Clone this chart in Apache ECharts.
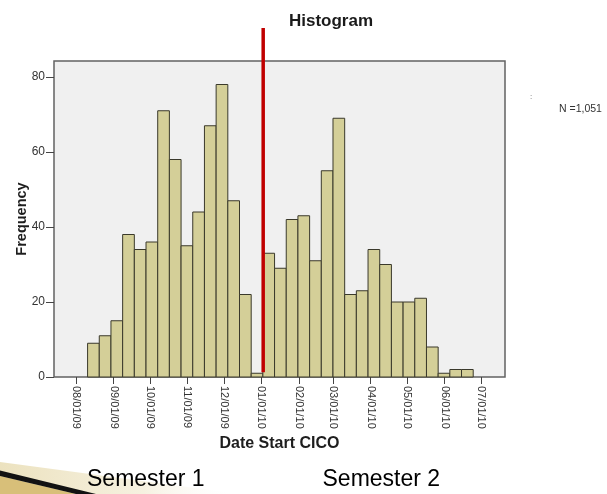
<!DOCTYPE html>
<html>
<head>
<meta charset="utf-8">
<script src="https://cdn.jsdelivr.net/npm/echarts@6/dist/echarts.min.js"></script>
<style>
html,body{margin:0;padding:0;background:#fff;}
#chart{width:607px;height:494px;}
</style>
</head>
<body>
<div id="chart"></div>
<script>
// ---- data ----
var tickLabels = ['08/01/09','09/01/09','10/01/09','11/01/09','12/01/09','01/01/10',
                  '02/01/10','03/01/10','04/01/10','05/01/10','06/01/10','07/01/10'];
var yTicks = [0, 20, 40, 60, 80];
var counts = [9, 11, 15, 38, 34, 36, 71, 58, 35, 44, 67, 78, 47, 22, 1,
              33, 29, 42, 43, 31, 55, 69, 22, 23, 34, 30, 20, 20, 21, 8, 1, 2, 2];
var firstBinDay = 9.6;      // days after 08/01/09 where the first bin starts
var binWidthDays = 9.636;   // bin width in days
var semesterSplitDay = 154.4; // red divider (early Jan 2010)
var totalN = '1,051';

// ---- helpers ----
var origin = Date.UTC(2009, 7, 1);
function labelToDay(s) {
  var p = s.split('/');
  return (Date.UTC(2000 + (+p[2]), (+p[0]) - 1, +p[1]) - origin) / 86400000;
}
var tickDays = tickLabels.map(labelToDay);
var dayToLabel = {};
tickDays.forEach(function (d, i) { dayToLabel[d] = tickLabels[i]; });

var binData = counts.map(function (c, i) {
  var s = firstBinDay + i * binWidthDays;
  return [s, s + binWidthDays, c];
});

var FONT = 'Liberation Sans, Arial, Helvetica, sans-serif';
var chart = echarts.init(document.getElementById('chart'), null, {renderer: 'canvas'});

chart.setOption({
  animation: false,
  backgroundColor: '#ffffff',
  grid: {
    left: 54, right: 102, top: 61, bottom: 117,
    show: true, backgroundColor: '#f0f0f0', borderColor: '#626262', borderWidth: 1.5
  },
  xAxis: {
    type: 'value',
    min: -18.1, max: 353.8,
    name: 'Date Start CICO',
    nameLocation: 'middle',
    nameGap: 58.5,
    nameMoveOverlap: false,
    nameTextStyle: {fontFamily: FONT, fontWeight: 'bold', fontSize: 16, color: '#1e1e1e'},
    axisLine: {show: false, onZero: false},
    splitLine: {show: false},
    axisTick: {show: true, customValues: tickDays, length: 7, lineStyle: {color: '#444', width: 1}},
    axisLabel: {
      customValues: tickDays,
      rotate: -90,
      margin: 9,
      fontFamily: FONT, fontSize: 11, color: '#333',
      formatter: function (v) { return dayToLabel[v] || ''; }
    }
  },
  yAxis: {
    type: 'value',
    min: 0, max: 84.27,
    name: 'Frequency',
    nameLocation: 'middle',
    nameGap: 25,
    nameMoveOverlap: false,
    nameTextStyle: {fontFamily: FONT, fontWeight: 'bold', fontSize: 14.5, color: '#1e1e1e'},
    axisLine: {show: false, onZero: false},
    splitLine: {show: false},
    axisTick: {show: true, customValues: yTicks, length: 8, lineStyle: {color: '#444', width: 1}},
    axisLabel: {customValues: yTicks, margin: 9, fontFamily: FONT, fontSize: 12, color: '#333'}
  },
  series: [
    {
      type: 'custom',
      name: 'Histogram',
      data: binData,
      encode: {x: [0, 1], y: 2},
      renderItem: function (params, api) {
        var p0 = api.coord([api.value(0), api.value(2)]);
        var p1 = api.coord([api.value(1), 0]);
        return {
          type: 'rect',
          shape: {x: p0[0], y: p0[1], width: p1[0] - p0[0], height: p1[1] - p0[1]},
          style: {fill: '#d4cf98', stroke: '#3a392b', lineWidth: 1}
        };
      }
    },
    {
      type: 'custom',
      name: 'Semester split',
      data: [[semesterSplitDay, 1.3, 93.1]],
      clip: false,
      z: 5,
      renderItem: function (params, api) {
        var a = api.coord([api.value(0), api.value(1)]);
        var b = api.coord([api.value(0), api.value(2)]);
        return {
          type: 'line',
          shape: {x1: a[0], y1: a[1], x2: b[0], y2: b[1]},
          style: {stroke: '#c00000', lineWidth: 3.5}
        };
      }
    }
  ],
  graphic: [
    {type: 'text', x: 331, y: 21.5,
     style: {text: 'Histogram', font: 'bold 17px ' + FONT, fill: '#1a1a1a', align: 'center', verticalAlign: 'middle'}},
    {type: 'text', x: 559, y: 109.5,
     style: {text: 'N =' + totalN, font: '10.5px ' + FONT, fill: '#333', align: 'left', verticalAlign: 'middle'}},
    {type: 'text', x: 530, y: 97,
     style: {text: ':', font: '8px ' + FONT, fill: '#666', align: 'left', verticalAlign: 'middle'}},
    // decorative swoosh (slide theme)
    {type: 'polygon', z: 0,
     shape: {points: [[0, 462], [240, 494], [0, 494]]},
     style: {fill: new echarts.graphic.LinearGradient(0, 0, 1, 0, [
       {offset: 0, color: '#ece2bf'}, {offset: 0.6, color: '#f6f1e0'}, {offset: 1, color: 'rgba(255,255,255,0)'}])}},
    {type: 'polygon', z: 1,
     shape: {points: [[0, 476], [76, 494], [0, 494]]},
     style: {fill: '#d8bf79'}},
    {type: 'polygon', z: 2,
     shape: {points: [[0, 470.5], [96, 494], [76, 494], [0, 476]]},
     style: {fill: '#121212'}},
    {type: 'text', x: 87, y: 480,
     style: {text: 'Semester 1', font: '23px ' + FONT, fill: '#000', align: 'left', verticalAlign: 'middle'}},
    {type: 'text', x: 322.5, y: 480,
     style: {text: 'Semester 2', font: '23px ' + FONT, fill: '#000', align: 'left', verticalAlign: 'middle'}}
  ]
});
</script>
</body>
</html>
